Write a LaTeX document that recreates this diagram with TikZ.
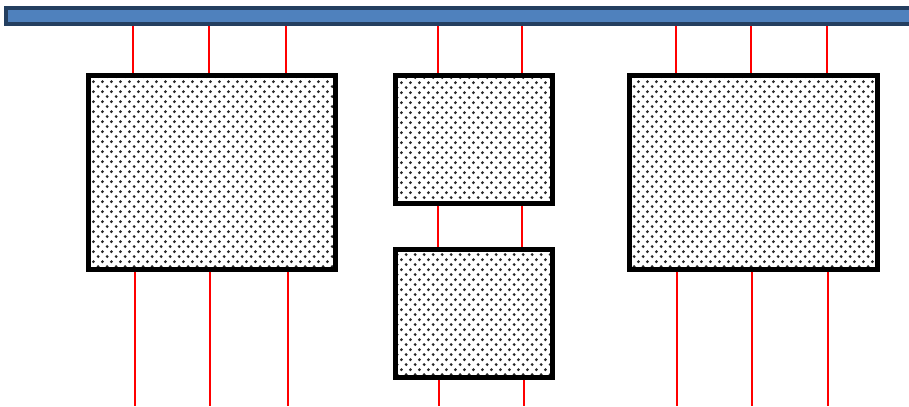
\documentclass[tikz,border=0pt]{standalone}
\usepackage{tikz}
\usetikzlibrary{patterns.meta,calc}
\definecolor{busfill}{HTML}{4F81BD}
\definecolor{busedge}{HTML}{243F60}

\tikzdeclarepattern{
  name=speckle,
  type=uncolored,
  bounding box={(0pt,0pt) and (5pt,5.6pt)},
  tile size={(5pt,5.6pt)},
  code={
    \fill (1.25pt,1.4pt) circle (0.9pt);
    \fill (3.75pt,4.2pt) circle (0.9pt);
  }
}

\begin{document}
\begin{tikzpicture}[x=0.02cm, y=-0.02cm,
  block/.style={draw=black, line width=0.1cm, pattern=speckle,
    pattern color=black!85, inner sep=0pt},
  wire/.style={red, line width=0.8pt}]
\useasboundingbox (0,0) rectangle (909,406);
% bus bar along the top
\node[draw=busedge, fill=busfill, line width=0.08cm, inner sep=0pt,
  minimum width=0.02cm*906, minimum height=0.02cm*16] (bus) at (459,16) {};

% the four blocks
\node[block, minimum width=0.02cm*247, minimum height=0.02cm*194] (left) at (211.5,172) {};
\node[block, minimum width=0.02cm*157, minimum height=0.02cm*128] (midtop) at (473.5,139) {};
\node[block, minimum width=0.02cm*157, minimum height=0.02cm*128] (midbot) at (473.5,313) {};
\node[block, minimum width=0.02cm*248, minimum height=0.02cm*194] (right) at (753,172) {};

% wires from the bus to the blocks
\foreach \x in {133,209,286}{
  \draw[wire] (\x,0 |- bus.south) -- (\x,0 |- left.north);
}
\foreach \x in {438,522}{
  \draw[wire] (\x,0 |- bus.south) -- (\x,0 |- midtop.north);
  \draw[wire] (\x,0 |- midtop.south) -- (\x,0 |- midbot.north);
}
\foreach \x in {676,751,827}{
  \draw[wire] (\x,0 |- bus.south) -- (\x,0 |- right.north);
}

% wires leaving at the bottom
\foreach \x/\n in {135/a,210/b,288/c,677/d,752/e,828/f}{
  \coordinate (end\n) at (\x,406);
}
\foreach \n in {a,b,c}{
  \draw[wire] (end\n |- left.south) -- (end\n);
}
\foreach \n in {d,e,f}{
  \draw[wire] (end\n |- right.south) -- (end\n);
}
\coordinate (endg) at (439,406);
\coordinate (endh) at (524,406);
\draw[wire] (endg |- midbot.south) -- (endg);
\draw[wire] (endh |- midbot.south) -- (endh);
\end{tikzpicture}
\end{document}
